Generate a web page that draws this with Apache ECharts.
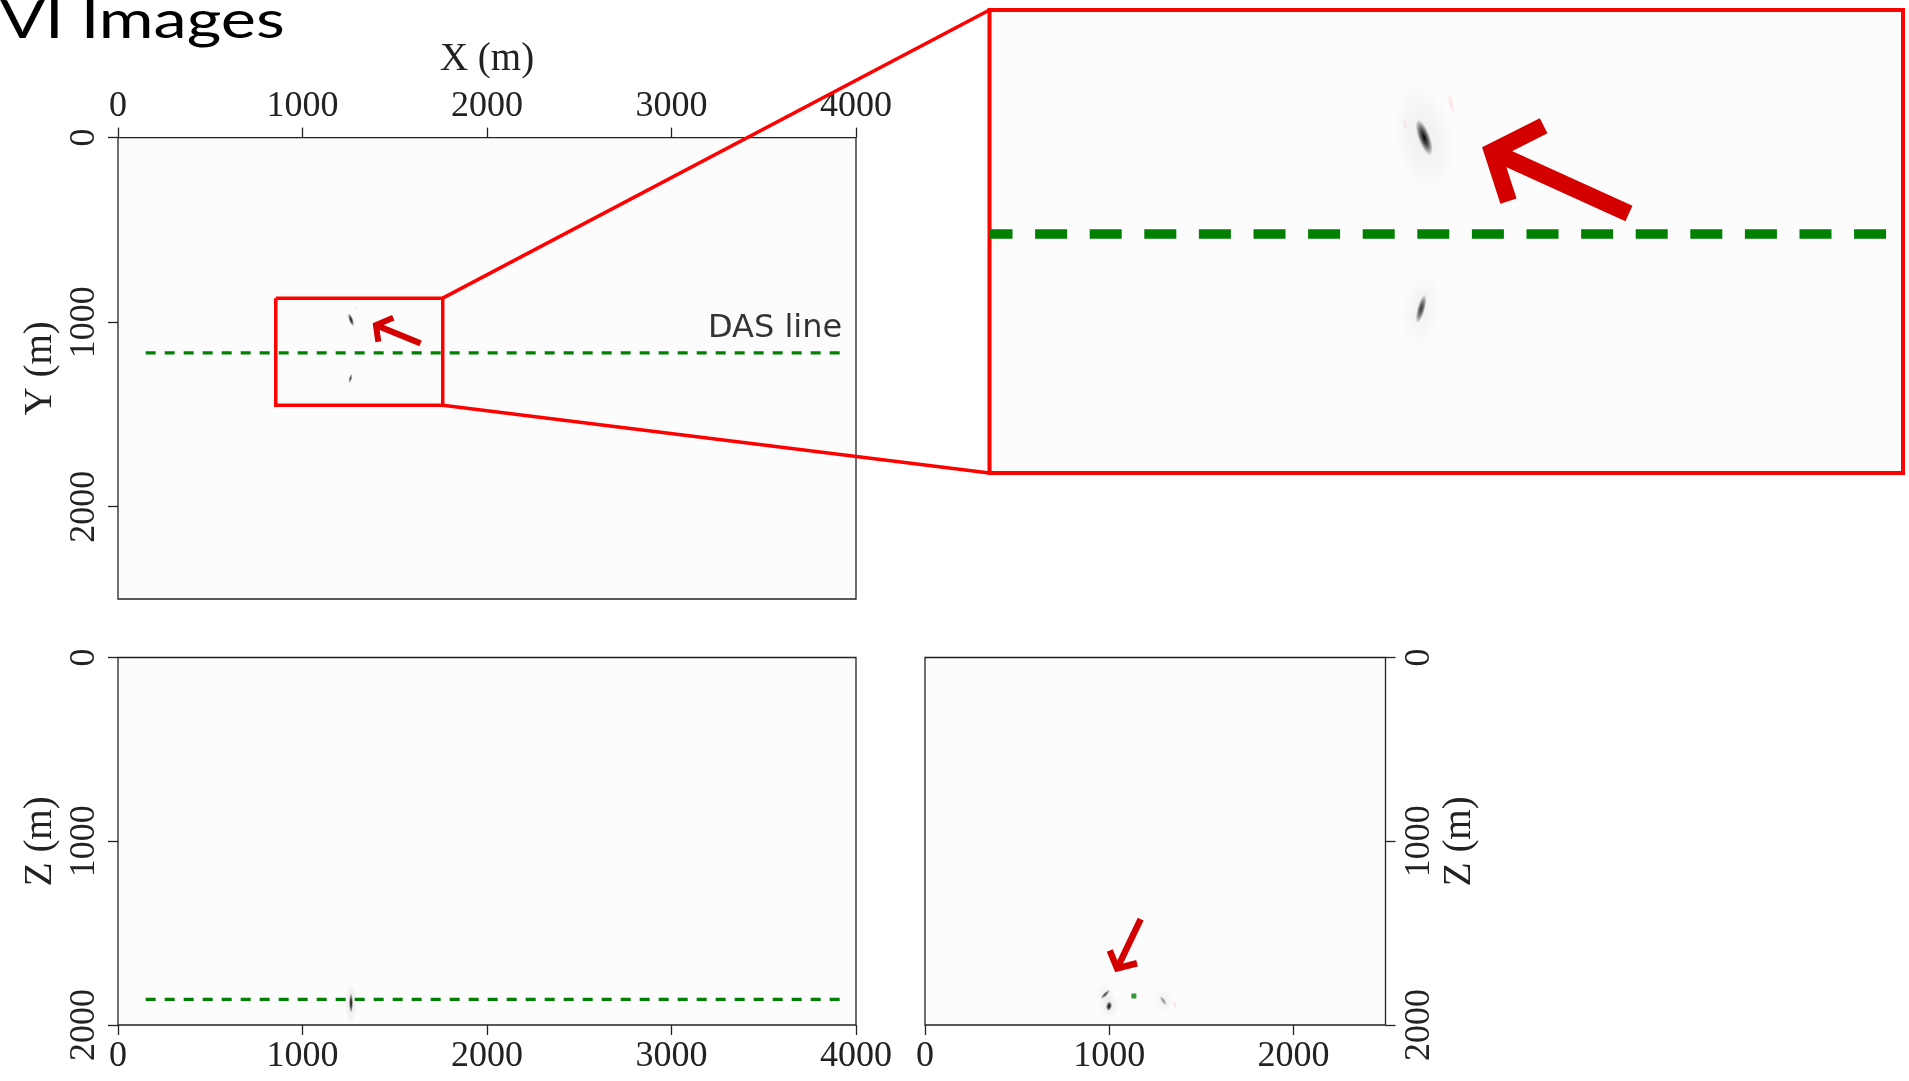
<!DOCTYPE html>
<html><head><meta charset="utf-8">
<script src="https://cdn.jsdelivr.net/npm/echarts@6/dist/echarts.min.js"></script>
<style>html,body{margin:0;padding:0;background:#fff}#c{width:1909px;height:1081px}</style>
</head><body><div id="c"></div>
<script>
// ---------------- data (metres) ----------------
const xTicks = [0, 1000, 2000, 3000, 4000];
const mapYTicks = [0, 1000, 2000];
const zTicks = [0, 1000, 2000];
const sectionYTicks = [0, 1000, 2000];
const xRange = [0, 4000];
const yRange = [0, 2500];
const zRange = [0, 2000];
const insetXRange = [830, 1740];
const insetYRange = [750, 1610];

const dasLineY = 1166;
const dasLineZ = 1860;
const dasLineX = [150, 3925];
const insetDasLineX = [830, 1724];

const zoomBoxX = [855, 1760];
const zoomBoxY = [870, 1450];

const mapEvents = [[1263, 987], [1260, 1305]];          // X, Y
const mapEventsFaintRed = [[1290, 924], [1244, 963]];
const xzEvents = [[1263, 1880]];                         // X, Z
const yzEvents = [[999, 1897], [979, 1833], [1294, 1868]]; // Y, Z
const yzEventsFaintRed = [[1355, 1888]];
const yzDasPoint = [[1134, 1842]];

const mapArrowWings = [[1492, 976], [1398, 1016], [1411, 1106]];
const mapArrowShaft = [[1398, 1016], [1640, 1115]];
const insetArrowWings = [[1382, 965], [1331, 1013], [1347, 1105]];
const insetArrowShaft = [[1331, 1013], [1467, 1128]];
const yzArrowWings = [[1003, 1595], [1043, 1692], [1151, 1664]];
const yzArrowShaft = [[1043, 1692], [1171, 1424]];

// connector: zoom-box corner (map X,Y) -> inset corner (inset X,Y)
const connectors = [[1760, 870, 830, 750], [1760, 1450, 830, 1610]];

// ---------------- styles ----------------
const serif = 'Liberation Serif';
const tickColor = '#222';
const labelColor = '#222';
const frame = '#222';
const bg = '#fcfcfc';
const green = '#008000';
const boxRed = '#ff0000';
const arrowRed = '#d40000';

const mapEventStyle = [{w:4.5,h:14,rot:20,a:0.95},{w:3.5,h:10,rot:-15,a:0.7}];
const mapFaintRedStyle = [{w:2,h:7,rot:15,a:0.12,rgb:'255,0,0'},{w:2,h:5,rot:15,a:0.08,rgb:'255,0,0'}];
const insetEventStyle = [{w:12,h:38,rot:20,a:1},{w:8,h:30,rot:-15,a:0.8}];
const insetHaloStyle = [{w:60,h:110,rot:10,a:0.05},{w:40,h:80,rot:-10,a:0.04}];
const insetFaintRedStyle = [{w:5,h:24,rot:15,a:0.12,rgb:'255,0,0'},{w:4,h:14,rot:20,a:0.08,rgb:'255,0,0'}];
const xzEventStyle = [{w:4,h:20,rot:0,a:1}];
const xzHaloStyle = [{w:12,h:45,rot:0,a:0.08}];
const yzEventStyle = [{w:6,h:10,rot:-10,a:1},{w:4,h:13,rot:-45,a:0.75},{w:4,h:12,rot:35,a:0.45}];
const yzHaloStyle = [{w:22,h:26,rot:0,a:0.05},{w:20,h:24,rot:0,a:0.04},{w:20,h:24,rot:0,a:0.04}];
const yzFaintRedStyle = [{w:3,h:8,rot:20,a:0.15,rgb:'255,0,0'}];

const chart = echarts.init(document.getElementById('c'), null, {renderer: 'canvas'});

function blobSeries(data, styles, idx) {
  return {
    type: 'custom', xAxisIndex: idx, yAxisIndex: idx, data: data, z: 4,
    renderItem: function (params, api) {
      const p = api.coord([api.value(0), api.value(1)]);
      const s = styles[params.dataIndex % styles.length];
      const rgb = s.rgb || '0,0,0';
      return {
        type: 'circle', x: p[0], y: p[1], rotation: s.rot * Math.PI / 180,
        scaleX: s.w / 2, scaleY: s.h / 2,
        shape: {cx: 0, cy: 0, r: 1},
        style: {fill: new echarts.graphic.RadialGradient(0.5, 0.5, 0.5, [
          {offset: 0, color: 'rgba(' + rgb + ',' + s.a + ')'},
          {offset: 0.5, color: 'rgba(' + rgb + ',' + (s.a * 0.6) + ')'},
          {offset: 1, color: 'rgba(' + rgb + ',0)'}
        ])}
      };
    }
  };
}
function polySeries(data, idx, color, width, extra) {
  return Object.assign({
    type: 'line', xAxisIndex: idx, yAxisIndex: idx, data: data, showSymbol: false, symbol: 'none',
    animation: false, z: 5,
    lineStyle: {color: color, width: width, cap: 'butt', join: 'miter', miterLimit: 10}
  }, extra || {});
}
const plain = function (v) { return String(v); };
function lbl(margin, ticks, rotate) {
  return {fontFamily: serif, fontSize: 36, color: labelColor, margin: margin, rotate: rotate || 0,
    customValues: ticks, formatter: plain};
}
function tck(ticks) {
  return {show: true, inside: false, length: 10, lineStyle: {color: tickColor, width: 1.3}, customValues: ticks};
}
function axisBase(extra) {
  return Object.assign({
    type: 'value', splitLine: {show: false}, axisLine: {show: false, onZero: false},
    nameMoveOverlap: false,
    nameTextStyle: {fontFamily: serif, fontSize: 39, color: labelColor}
  }, extra);
}
const gridBase = {show: true, backgroundColor: bg, borderColor: frame, borderWidth: 1.3, containLabel: false, outerBoundsMode: 'none'};

const option = {
  animation: false,
  backgroundColor: '#ffffff',
  graphic: [{
    type: 'text', x: 0, y: 21, scaleX: 1.28,
    style: {text: 'VI Images', font: '52px Lato', fill: '#000', verticalAlign: 'middle', align: 'left'}
  }],
  grid: [
    Object.assign({}, gridBase, {left: 118, top: 137.6, width: 738, height: 461.4}),
    Object.assign({}, gridBase, {left: 989.5, top: 10, width: 913.5, height: 463, borderColor: boxRed, borderWidth: 4}),
    Object.assign({}, gridBase, {left: 118, top: 657.5, width: 738, height: 367.5}),
    Object.assign({}, gridBase, {left: 925, top: 657.5, width: 460.5, height: 367.5})
  ],
  xAxis: [
    axisBase({gridIndex: 0, position: 'top', min: xRange[0], max: xRange[1], interval: 1000,
      axisLabel: lbl(13, xTicks), axisTick: tck(xTicks),
      name: 'X (m)', nameLocation: 'middle', nameGap: 58}),
    {gridIndex: 1, type: 'value', min: insetXRange[0], max: insetXRange[1], show: false},
    axisBase({gridIndex: 2, position: 'bottom', min: xRange[0], max: xRange[1], interval: 1000,
      axisLabel: lbl(14, xTicks), axisTick: tck(xTicks)}),
    axisBase({gridIndex: 3, position: 'bottom', min: yRange[0], max: yRange[1], interval: 1000,
      axisLabel: lbl(14, sectionYTicks), axisTick: tck(sectionYTicks)})
  ],
  yAxis: [
    axisBase({gridIndex: 0, position: 'left', inverse: true, min: yRange[0], max: yRange[1], interval: 1000,
      axisLabel: lbl(15, mapYTicks, 90), axisTick: tck(mapYTicks),
      name: 'Y (m)', nameLocation: 'middle', nameRotate: 90, nameGap: 58}),
    {gridIndex: 1, type: 'value', inverse: true, min: insetYRange[0], max: insetYRange[1], show: false},
    axisBase({gridIndex: 2, position: 'left', inverse: true, min: zRange[0], max: zRange[1], interval: 1000,
      axisLabel: lbl(15, zTicks, 90), axisTick: tck(zTicks),
      name: 'Z (m)', nameLocation: 'middle', nameRotate: 90, nameGap: 58}),
    axisBase({gridIndex: 3, position: 'right', inverse: true, min: zRange[0], max: zRange[1], interval: 1000,
      axisLabel: lbl(16, zTicks, 90), axisTick: tck(zTicks),
      name: 'Z (m)', nameLocation: 'middle', nameRotate: 90, nameGap: 55})
  ],
  series: [
    // ---- map view ----
    blobSeries(mapEvents, mapEventStyle, 0),
    blobSeries(mapEventsFaintRed, mapFaintRedStyle, 0),
    polySeries([[dasLineX[0], dasLineY], [dasLineX[1], dasLineY]], 0, green, 3.3,
      {lineStyle: {color: green, width: 3.3, type: [10, 9], cap: 'butt'}}),
    polySeries([[zoomBoxX[0], zoomBoxY[0]], [zoomBoxX[1], zoomBoxY[0]], [zoomBoxX[1], zoomBoxY[1]],
                [zoomBoxX[0], zoomBoxY[1]], [zoomBoxX[0], zoomBoxY[0]]], 0, boxRed, 3.5, {z: 6}),
    polySeries(mapArrowWings, 0, arrowRed, 6),
    polySeries(mapArrowShaft, 0, arrowRed, 6),
    {
      type: 'scatter', xAxisIndex: 0, yAxisIndex: 0, data: [[dasLineX[1], dasLineY]], symbolSize: 1,
      itemStyle: {color: 'rgba(0,0,0,0)'}, z: 7,
      label: {show: true, formatter: 'DAS line', position: 'top', align: 'right', distance: 8,
        fontFamily: 'DejaVu Sans', fontSize: 32, color: '#000'}
    },
    {
      type: 'custom', xAxisIndex: 0, yAxisIndex: 0, data: connectors, clip: false, z: 8,
      renderItem: function (params, api) {
        const p1 = api.coord([api.value(0), api.value(1)]);
        const p2 = chart.convertToPixel({gridIndex: 1}, [api.value(2), api.value(3)]);
        return {type: 'line', shape: {x1: p1[0], y1: p1[1], x2: p2[0], y2: p2[1]},
          style: {stroke: boxRed, lineWidth: 3.5}};
      }
    },
    // ---- inset (zoomed map view) ----
    blobSeries(mapEvents, insetHaloStyle, 1),
    blobSeries(mapEvents, insetEventStyle, 1),
    blobSeries(mapEventsFaintRed, insetFaintRedStyle, 1),
    polySeries([[insetDasLineX[0], dasLineY], [insetDasLineX[1], dasLineY]], 1, green, 9.5,
      {lineStyle: {color: green, width: 9.5, type: [32, 22.6], dashOffset: 9, cap: 'butt'}}),
    polySeries(insetArrowWings, 1, arrowRed, 17),
    polySeries(insetArrowShaft, 1, arrowRed, 17),
    // ---- XZ section ----
    blobSeries(xzEvents, xzHaloStyle, 2),
    blobSeries(xzEvents, xzEventStyle, 2),
    polySeries([[dasLineX[0], dasLineZ], [dasLineX[1], dasLineZ]], 2, green, 3.3,
      {lineStyle: {color: green, width: 3.3, type: [10, 9], cap: 'butt'}}),
    // ---- YZ section ----
    blobSeries(yzEvents, yzHaloStyle, 3),
    blobSeries(yzEvents, yzEventStyle, 3),
    blobSeries(yzEventsFaintRed, yzFaintRedStyle, 3),
    {type: 'scatter', xAxisIndex: 3, yAxisIndex: 3, data: yzDasPoint, symbol: 'rect', symbolSize: 5,
      itemStyle: {color: green}, z: 6},
    polySeries(yzArrowWings, 3, arrowRed, 6.5),
    polySeries(yzArrowShaft, 3, arrowRed, 6.5)
  ]
};
chart.setOption(option);
</script>
</body></html>
